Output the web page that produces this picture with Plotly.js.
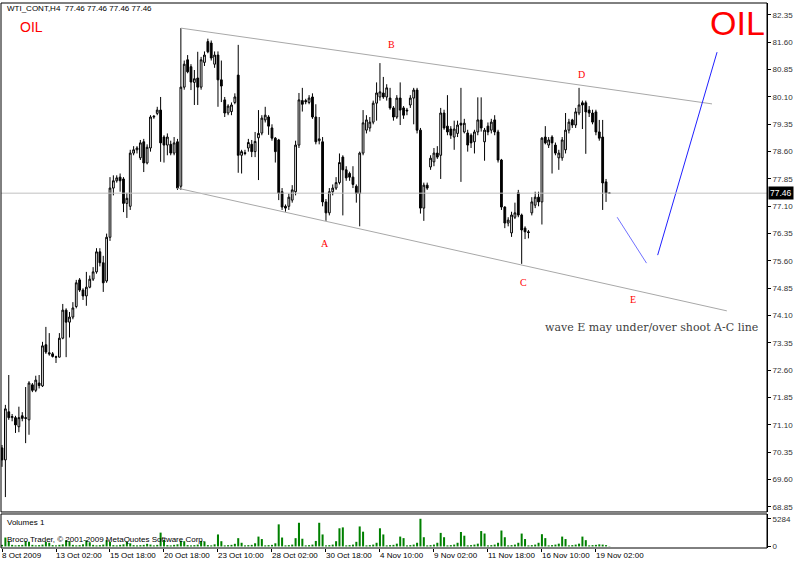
<!DOCTYPE html>
<html>
<head>
<meta charset="utf-8">
<script src="https://cdn.plot.ly/plotly-3.0.1.min.js"></script>
<style>html,body{margin:0;padding:0;background:#fff;}#chart{width:800px;height:561px;}</style>
</head>
<body>
<div id="chart"></div>
<script>
// ---------- data (WTI_CONT, H4) ----------
const symbolTitle = "WTI_CONT,H4  77.46 77.46 77.46 77.46";
const lastPrice = 77.46;

const open = [
70.47,70.14,71.46,71.30,71.30,71.05,71.35,71.30,71.24,72.20,
72.05,72.25,72.17,73.30,73.08,73.05,72.97,72.96,73.48,74.25,
73.92,74.06,74.35,75.08,74.80,74.64,74.88,75.10,75.30,75.85,
75.55,75.05,76.25,77.60,77.80,77.90,77.85,77.18,77.10,78.56,
78.65,78.43,78.87,78.29,78.70,79.55,79.65,79.74,79.00,78.78,
78.80,78.56,78.87,77.65,80.37,81.12,80.93,80.50,80.62,80.37,
81.05,81.62,81.58,81.00,81.25,80.57,80.02,79.66,79.70,79.95,
80.70,78.50,78.57,78.70,78.80,78.60,78.98,79.11,79.47,79.55,
79.25,78.97,78.92,77.50,77.10,77.10,77.27,77.50,78.78,80.00,
80.00,79.95,80.10,79.55,78.90,78.87,77.22,76.92,77.50,77.60,
77.75,78.45,78.10,78.00,77.90,77.65,77.45,78.56,79.19,79.25,
79.41,79.93,80.10,80.21,80.10,80.07,79.80,79.55,80.07,79.80,
79.74,79.88,80.07,80.29,79.19,77.05,77.68,78.18,78.32,78.56,
78.50,79.66,79.30,79.22,79.00,79.10,79.38,79.14,79.11,79.05,
78.87,79.14,79.47,78.87,79.30,79.19,79.47,79.14,78.37,77.08,
76.64,76.37,76.80,77.47,76.86,76.50,76.40,76.92,77.13,77.35,
77.22,79.00,78.78,79.00,78.78,78.43,78.43,78.65,79.19,79.47,
79.33,79.66,79.94,79.94,79.74,79.66,79.69,79.14,79.00,77.77,
77.46];

const high = [
70.55,71.65,72.47,71.40,71.35,71.60,71.45,72.14,72.30,72.25,
72.45,72.47,73.38,73.79,73.62,73.10,73.00,73.62,74.42,74.30,
74.20,74.47,75.08,75.13,74.85,75.30,75.20,75.43,75.95,75.95,
75.74,76.35,77.90,77.95,77.95,78.00,77.90,77.47,78.65,78.75,
78.75,78.92,78.95,78.80,79.60,79.60,79.83,80.10,79.05,79.10,
78.90,79.00,78.95,81.99,81.10,81.25,81.00,80.84,81.34,81.20,
81.35,81.70,81.65,81.35,81.35,81.10,80.10,79.90,79.95,80.20,
81.53,78.65,78.65,78.95,78.92,79.14,79.74,79.60,79.83,79.60,
79.35,79.00,78.95,77.60,77.15,77.45,77.68,78.90,80.21,80.35,
80.05,80.15,80.20,79.90,79.55,79.00,77.30,77.60,77.70,77.90,
78.55,78.50,78.20,78.05,78.20,77.70,78.60,79.74,79.60,79.55,
80.00,80.50,81.03,80.65,80.45,80.35,79.85,80.15,80.50,79.85,
79.80,80.15,80.35,80.35,79.25,77.75,77.75,78.50,78.70,78.75,
79.80,79.75,80.15,79.30,79.45,79.45,80.35,79.50,79.20,79.10,
79.20,80.09,80.09,79.25,79.40,79.50,79.60,79.20,78.40,77.10,
76.80,76.95,77.20,77.55,76.90,76.55,76.45,77.35,77.50,77.50,
79.00,79.30,79.00,79.05,78.85,78.65,79.00,79.66,79.50,79.50,
79.80,80.35,80.00,80.00,79.85,79.75,79.75,79.47,79.47,77.85,
77.46];

const low = [
69.95,69.12,71.24,71.20,70.88,70.90,71.20,70.60,70.83,72.00,
72.00,72.10,72.14,73.05,73.00,72.95,72.80,72.95,73.45,72.96,
73.50,74.00,74.30,74.75,74.53,74.37,74.85,75.05,75.25,75.45,
74.75,75.00,76.15,77.40,77.75,77.50,76.94,76.78,77.00,78.50,
78.55,78.37,78.04,78.25,78.60,79.50,79.60,78.32,78.30,78.50,
78.50,78.50,77.55,77.55,80.30,80.75,80.29,79.88,79.88,80.30,
80.95,81.30,81.10,80.90,79.83,79.96,79.55,79.60,79.60,79.90,
78.02,78.00,78.50,78.60,78.45,78.45,77.82,79.05,79.40,79.06,
78.90,78.30,77.27,77.00,76.95,77.00,77.20,77.40,78.70,79.70,
79.90,79.90,79.50,78.80,78.80,77.10,76.70,76.85,77.40,77.55,
77.70,76.85,77.80,77.80,77.60,77.20,76.55,78.50,79.10,79.15,
79.35,79.45,80.00,80.05,80.00,79.75,79.45,79.50,79.33,79.50,
79.60,79.80,79.35,79.10,76.90,76.70,77.55,78.10,78.20,78.40,
77.85,79.20,79.05,78.95,78.65,79.00,77.77,79.10,78.60,78.70,
78.55,79.05,79.15,78.35,79.05,79.10,79.05,78.30,77.00,76.50,
76.55,76.26,76.75,76.80,75.52,76.20,76.22,76.85,77.05,77.10,
76.60,78.80,78.70,78.00,78.50,78.10,78.35,78.55,79.10,79.25,
79.25,79.60,79.22,78.54,79.55,79.35,79.05,78.90,77.00,77.22,
77.46];

const close = [
70.14,71.54,71.30,71.33,71.10,71.30,71.28,71.28,72.25,72.05,
72.33,72.18,73.27,73.10,73.05,72.98,72.96,73.48,74.25,73.92,
74.06,74.31,75.00,74.80,74.64,74.88,75.10,75.30,75.85,75.55,
75.00,76.25,77.60,77.80,77.88,77.80,77.18,77.32,78.56,78.65,
78.70,78.84,78.29,78.72,79.55,79.57,79.74,78.84,78.78,79.00,
78.56,78.84,77.60,80.37,81.00,80.79,80.51,80.60,80.37,81.12,
81.25,81.34,81.17,81.25,80.57,80.40,79.66,79.85,79.88,80.10,
78.50,78.60,78.55,78.85,78.60,78.88,79.10,79.52,79.60,79.30,
78.97,78.60,77.46,77.08,77.05,77.35,77.55,78.78,80.02,79.90,
79.97,80.07,79.55,78.87,78.95,77.22,76.92,77.50,77.60,77.75,
78.30,78.10,77.88,77.90,77.70,77.45,78.56,79.39,79.47,79.41,
79.93,80.21,80.24,80.10,80.35,79.80,79.55,80.07,79.74,79.60,
79.72,80.07,80.29,79.19,77.05,77.68,77.60,78.42,78.56,78.45,
79.66,79.25,79.14,79.05,79.22,79.33,79.33,79.38,78.78,78.84,
79.14,79.47,79.25,79.19,79.14,79.41,79.14,78.37,77.08,76.64,
76.72,76.86,76.92,76.86,76.45,76.40,76.38,77.22,77.35,77.22,
78.97,78.84,78.92,78.84,78.56,78.56,78.92,79.19,79.41,79.33,
79.69,79.88,79.88,79.69,79.66,79.41,79.14,78.97,77.74,77.46,
77.46];

const volume = [
300,1700,1000,300,200,250,300,1000,900,300,
200,250,350,880,700,250,200,300,400,1200,
1000,300,200,250,400,1150,800,300,200,250,
350,1200,900,250,200,300,400,900,600,250,
200,250,300,500,350,200,300,2640,1230,250,
200,300,400,1100,1000,250,200,250,350,1050,
950,250,200,400,2290,1000,200,250,300,500,
1580,700,200,250,300,600,1880,1410,200,250,
300,600,4220,1700,200,250,350,1580,4520,1470,
200,250,350,1050,4520,2290,200,250,350,1000,
3470,3640,200,250,350,880,3820,2820,200,250,
350,700,3470,2290,200,250,300,530,1880,1590,
200,250,350,700,5284,1760,200,250,350,700,
2590,1760,200,250,350,700,2760,2050,200,250,
350,530,2940,2470,200,250,350,700,3040,1760,
200,250,350,700,2460,1410,200,250,350,700,
2340,1590,200,250,350,530,1880,1410,200,250,
350,530,1880,1200,200,250,300,400,350,250,
50];

// time axis labels (bar index : label)
const dateTickIdx = [0,16,32,48,64,80,96,112,128,144,160,176];
const dateTickText = ['8 Oct 2009','13 Oct 02:00','15 Oct 18:00','20 Oct 18:00','23 Oct 10:00','28 Oct 02:00','30 Oct 18:00','4 Nov 10:00','9 Nov 02:00','11 Nov 18:00','16 Nov 10:00','19 Nov 02:00'];
const volumeTicks = [0, 5284];

// drawn objects (bar index, price)
const channelTopX = [53, 210.4];
const channelTopY = [81.99, 79.91];
const channelBotX = [51.9, 214.8];
const channelBotY = [77.60, 74.23];
const waveDownX = [182.3, 191.0];
const waveDownY = [76.80, 75.54];
const waveUpX = [194.3, 211.9];
const waveUpY = [75.76, 81.33];
const waveLabels = ['A','B','C','D','E'];
const waveLabelX = [95.7, 115.3, 154.4, 171.6, 187.0];
const waveLabelY = [76.09, 81.53, 75.00, 80.73, 74.53];
const noteText = 'wave E may under/over shoot A-C line';

// ---------- build ----------
const idx = close.map((_, i) => i);
const sans = 'Liberation Sans, Arial, sans-serif';

const traces = [
  {
    type: 'candlestick', x: idx, open: open, high: high, low: low, close: close,
    xaxis: 'x', yaxis: 'y', whiskerwidth: 0,
    increasing: {line: {color: '#000000', width: 1}, fillcolor: '#ffffff'},
    decreasing: {line: {color: '#000000', width: 1}, fillcolor: '#000000'},
    hoverinfo: 'skip', showlegend: false
  },
  {type: 'scatter', mode: 'lines', x: channelTopX, y: channelTopY, line: {color: '#a8a8a8', width: 1}, hoverinfo: 'skip', showlegend: false},
  {type: 'scatter', mode: 'lines', x: channelBotX, y: channelBotY, line: {color: '#a8a8a8', width: 1}, hoverinfo: 'skip', showlegend: false},
  {type: 'scatter', mode: 'lines', x: waveDownX, y: waveDownY, line: {color: '#7070ff', width: 1}, hoverinfo: 'skip', showlegend: false},
  {type: 'scatter', mode: 'lines', x: waveUpX, y: waveUpY, line: {color: '#2020ff', width: 1}, hoverinfo: 'skip', showlegend: false},
  {
    type: 'bar', x: idx, y: volume, xaxis: 'x', yaxis: 'y2', width: 0.6,
    marker: {color: '#008000', line: {width: 0}}, hoverinfo: 'skip', showlegend: false
  }
];

const annotations = [];
annotations.push({xref: 'paper', yref: 'paper', x: 0.005, y: 0.9905, xanchor: 'left', yanchor: 'middle', text: symbolTitle, showarrow: false, font: {family: sans, size: 8, color: '#000'}});
annotations.push({xref: 'paper', yref: 'paper', x: 0.0392, y: 0.956, xanchor: 'center', yanchor: 'middle', text: 'OIL', showarrow: false, font: {family: sans, size: 14, color: '#ff0000'}});
annotations.push({xref: 'paper', yref: 'paper', x: 0.962, y: 0.963, xanchor: 'center', yanchor: 'middle', text: 'OIL', showarrow: false, font: {family: sans, size: 34, color: '#ff0000'}});
waveLabels.forEach((t, k) => annotations.push({xref: 'x', yref: 'y', x: waveLabelX[k], y: waveLabelY[k], text: t, showarrow: false, font: {family: 'Liberation Serif, serif', size: 10, color: '#ff0000'}}));
annotations.push({xref: 'paper', yref: 'paper', x: 0.8486, y: 0.4037, xanchor: 'center', yanchor: 'middle', text: noteText, showarrow: false, font: {family: 'DejaVu Serif, serif', size: 11, color: '#404040'}});
annotations.push({xref: 'paper', yref: 'y', x: 1, y: lastPrice, xanchor: 'left', yanchor: 'middle', xshift: 1, text: lastPrice.toFixed(2), showarrow: false, bgcolor: '#000000', borderpad: 1, font: {family: sans, size: 8.5, color: '#ffffff'}});
annotations.push({xref: 'paper', yref: 'paper', x: 0.005, y: 0.0477, xanchor: 'left', yanchor: 'middle', text: 'Volumes 1', showarrow: false, font: {family: sans, size: 8, color: '#000'}});
annotations.push({xref: 'paper', yref: 'paper', x: 0.005, y: 0.0165, xanchor: 'left', yanchor: 'middle', text: 'Broco Trader, © 2001-2009 MetaQuotes Software Corp.', showarrow: false, font: {family: sans, size: 8, color: '#000'}});
dateTickIdx.forEach((v, k) => annotations.push({xref: 'x', yref: 'paper', x: v, y: 0, xanchor: 'left', yanchor: 'top', xshift: -2, yshift: -1, text: dateTickText[k], showarrow: false, font: {family: sans, size: 8, color: '#000'}}));

const layout = {
  width: 800, height: 561,
  margin: {l: 1, r: 33, t: 3, b: 13, pad: 0},
  paper_bgcolor: '#ffffff', plot_bgcolor: '#ffffff',
  showlegend: false, boxgap: 0.25, bargap: 0.4,
  xaxis: {
    anchor: 'y2', range: [-0.3, 226.7], rangeslider: {visible: false},
    showgrid: false, zeroline: false, showline: false,
    tickmode: 'array', tickvals: dateTickIdx, ticktext: dateTickIdx.map(() => ''),
    ticks: 'outside', ticklen: 3, tickcolor: '#000', showticklabels: false, fixedrange: true
  },
  yaxis: {
    domain: [0.0661, 1], anchor: 'x', side: 'right', range: [68.711, 82.679],
    tick0: 68.85, dtick: 0.75, tickformat: '.2f', ticks: 'outside', ticklen: 3, tickcolor: '#000',
    showgrid: false, zeroline: false, showline: true, linecolor: '#000', linewidth: 1,
    tickfont: {family: sans, size: 8, color: '#333'}, fixedrange: true
  },
  yaxis2: {
    domain: [0, 0.0624], anchor: 'x', side: 'right', range: [-300, 6200],
    tickmode: 'array', tickvals: volumeTicks, ticktext: volumeTicks.map(String),
    ticks: 'outside', ticklen: 3, tickcolor: '#000',
    showgrid: false, zeroline: false, showline: true, linecolor: '#000', linewidth: 1,
    tickfont: {family: sans, size: 8, color: '#333'}, fixedrange: true
  },
  shapes: [
    {type: 'line', xref: 'paper', yref: 'y', x0: 0, x1: 1, y0: lastPrice, y1: lastPrice, line: {color: '#c0c0c0', width: 1}},
    {type: 'rect', xref: 'paper', yref: 'paper', x0: 0, x1: 1, y0: 0.0661, y1: 1, line: {color: '#000', width: 1}},
    {type: 'rect', xref: 'paper', yref: 'paper', x0: 0, x1: 1, y0: 0, y1: 0.0624, line: {color: '#000', width: 1}}
  ],
  annotations: annotations
};

Plotly.newPlot('chart', traces, layout, {staticPlot: true, displayModeBar: false});
</script>
</body>
</html>
